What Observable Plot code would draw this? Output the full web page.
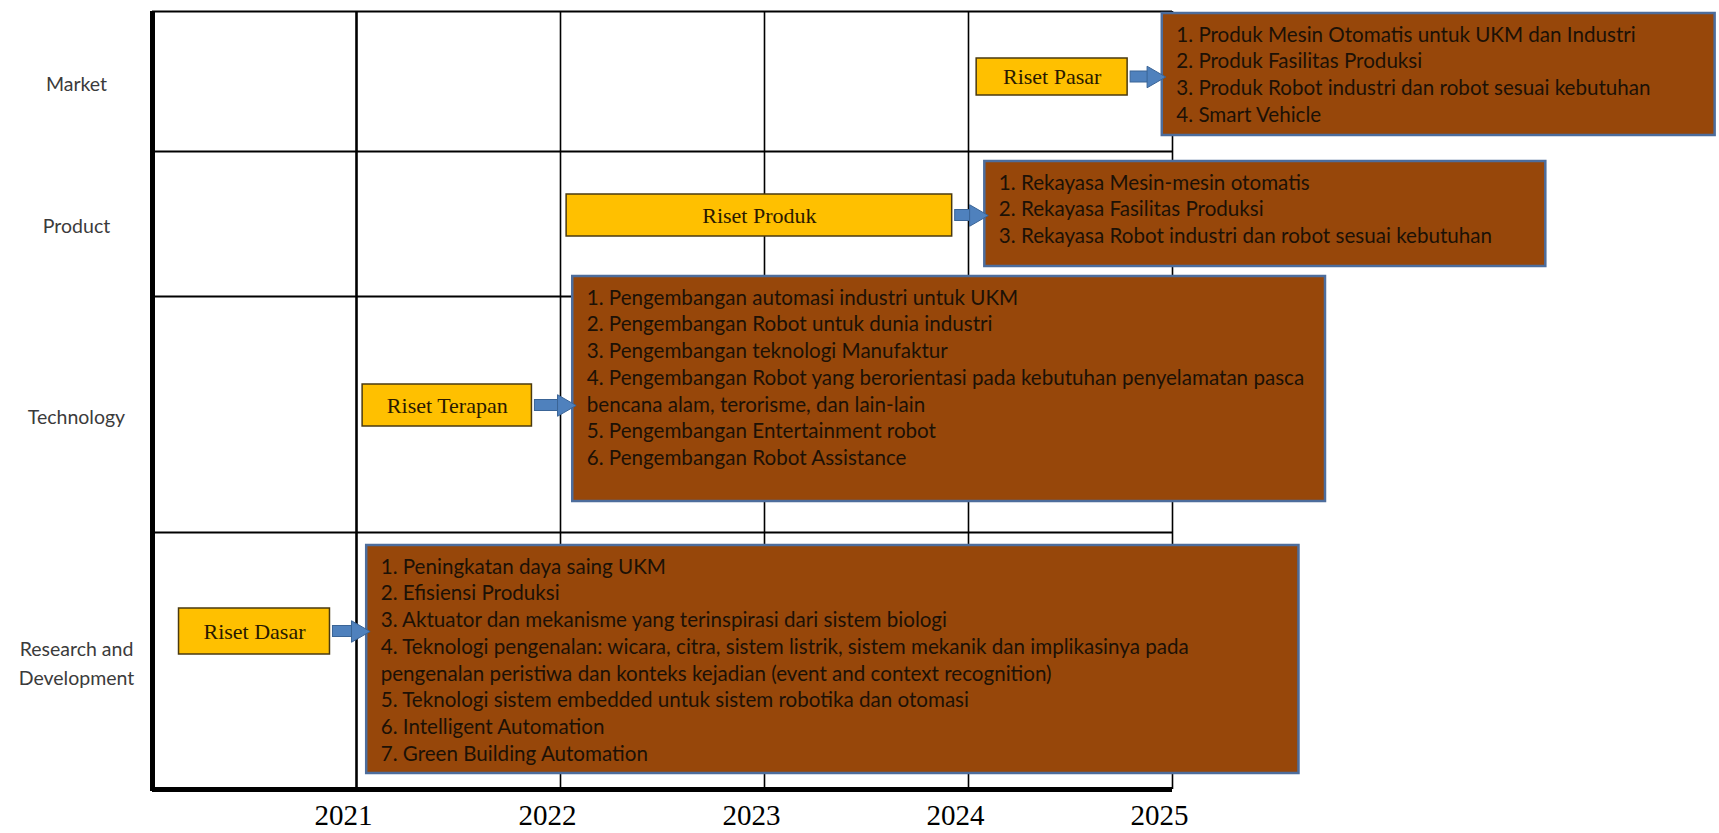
<!DOCTYPE html>
<html><head><meta charset="utf-8">
<script src="https://cdn.jsdelivr.net/npm/d3@7"></script>
<script src="https://cdn.jsdelivr.net/npm/@observablehq/plot@0.6"></script>
<style>body{margin:0;background:#fff} #chart svg{display:block}</style>
</head><body><div id="chart"></div>
<script>
// Timeline (x axis, years)
const years = [2021, 2022, 2023, 2024, 2025];
// Rows (y in diagram units from top)
const rowNames = ["Market", "Product", "Technology", "Research and\nDevelopment"];
const rowTop = [0, 140, 285, 521];
const rowBottom = [140, 285, 521, 778];
// Research stages (yellow boxes)
const stageLabels = ["Riset Pasar", "Riset Produk", "Riset Terapan", "Riset Dasar"];
const stageStart = [2024.04, 2022.03, 2021.03, 2020.13];
const stageEnd = [2024.78, 2023.92, 2021.86, 2020.87];
const stageTop = [47, 183, 373, 597];
const stageBottom = [84, 225, 415, 643];
// Outputs (brown boxes)
const outputStart = [2024.95, 2024.08, 2022.06, 2021.05];
const outputEnd = [2027.66, 2026.83, 2025.75, 2025.62];
const outputTop = [2, 150, 265, 534];
const outputBottom = [124, 255, 490, 762];
const outputItems = [
  ["1. Produk Mesin Otomatis untuk UKM dan Industri",
   "2. Produk Fasilitas Produksi",
   "3. Produk Robot industri dan robot sesuai kebutuhan",
   "4. Smart Vehicle"],
  ["1. Rekayasa Mesin-mesin otomatis",
   "2. Rekayasa Fasilitas Produksi",
   "3. Rekayasa Robot industri dan robot sesuai kebutuhan"],
  ["1. Pengembangan automasi industri untuk UKM",
   "2. Pengembangan Robot untuk dunia industri",
   "3. Pengembangan teknologi Manufaktur",
   "4. Pengembangan Robot yang berorientasi pada kebutuhan penyelamatan pasca",
   "bencana alam, terorisme, dan lain-lain",
   "5. Pengembangan Entertainment robot",
   "6. Pengembangan Robot Assistance"],
  ["1. Peningkatan daya saing UKM",
   "2. Efisiensi Produksi",
   "3. Aktuator dan mekanisme yang terinspirasi dari sistem biologi",
   "4. Teknologi pengenalan: wicara, citra, sistem listrik, sistem mekanik dan implikasinya pada",
   "pengenalan peristiwa dan konteks kejadian (event and context recognition)",
   "5. Teknologi sistem embedded untuk sistem robotika dan otomasi",
   "6. Intelligent Automation",
   "7. Green Building Automation"]
];

const rows = rowNames.map((name, i) => ({name, top: rowTop[i], bottom: rowBottom[i], mid: (rowTop[i] + rowBottom[i]) / 2}));
const stages = stageLabels.map((label, i) => ({label, x1: stageStart[i], x2: stageEnd[i], y1: stageTop[i], y2: stageBottom[i], ym: (stageTop[i] + stageBottom[i]) / 2}));
const outputs = outputItems.map((items, i) => ({text: items.join("\n"), x1: outputStart[i], x2: outputEnd[i], y1: outputTop[i], y2: outputBottom[i]}));
const arrows = stages.map((s, i) => ({x1: s.x2, x2: outputs[i].x1, y: s.ym}));

const x0 = 2020, xEnd = 2025, yEnd = 778;
const sans = "Lato, 'Noto Sans', sans-serif";
const serif = "'Liberation Serif', 'DejaVu Serif', serif";

const chart = Plot.plot({
  width: 1719,
  height: 833,
  marginLeft: 152,
  marginRight: 547,
  marginTop: 11,
  marginBottom: 44,
  x: {domain: [x0, xEnd]},
  y: {domain: [yEnd, 0], axis: null},
  marks: [
    // grid
    Plot.ruleY(rows, {y: "top", x1: x0, x2: xEnd, stroke: "#000", strokeWidth: 2}),
    Plot.ruleX(years, {x: d => d, y1: 0, y2: yEnd, stroke: "#000", strokeWidth: d => d === 2021 ? 2.6 : 1.6}),
    Plot.ruleX([x0], {y1: 0, y2: yEnd + 2, stroke: "#000", strokeWidth: 5}),
    Plot.ruleY([yEnd], {x1: x0, x2: xEnd, stroke: "#000", strokeWidth: 5}),
    // row labels
    Plot.text(rows, {x: () => x0, y: "mid", text: "name", dx: -76, textAnchor: "middle", lineHeight: 1.5, fontSize: 19.5, fontFamily: sans, fill: "#3b3b3b"}),
    // outputs
    Plot.rect(outputs, {x1: "x1", x2: "x2", y1: "y1", y2: "y2", fill: "#97470a", stroke: "#4d6d9c", strokeWidth: 2.5}),
    Plot.text(outputs, {x: "x1", y: "y1", text: "text", dx: 14, dy: 9, textAnchor: "start", lineAnchor: "top", lineHeight: 1.3, fontSize: 20.6, fontFamily: sans, fill: "#1c1106"}),
    // stages
    Plot.rect(stages, {x1: "x1", x2: "x2", y1: "y1", y2: "y2", fill: "#ffc000", stroke: "#4a3a10", strokeWidth: 1.5}),
    Plot.text(stages, {x: d => (d.x1 + d.x2) / 2, y: "ym", text: "label", fontSize: 22, fontFamily: serif, fill: "#2a1a00"}),
    // arrows
    Plot.rect(arrows, {x1: "x1", x2: "x2", y1: d => d.y - 5.5, y2: d => d.y + 5.5, insetLeft: 3, insetRight: 12, fill: "#4f81bd", stroke: "#3a6496", strokeWidth: 1}),
    Plot.dot(arrows, {x: "x2", y: "y", dx: -9, symbol: "triangle", rotate: 90, r: 8, fill: "#4f81bd", stroke: "#3a6496", strokeWidth: 1}),
    // year axis
    Plot.axisX({ticks: years, tickFormat: d => String(d), tickSize: 0, tickPadding: 15, fontSize: 29, fontFamily: serif, dx: -13, fill: "#000"})
  ]
});
chart.style.color = "#000";
document.getElementById("chart").append(chart);
</script></body></html>
